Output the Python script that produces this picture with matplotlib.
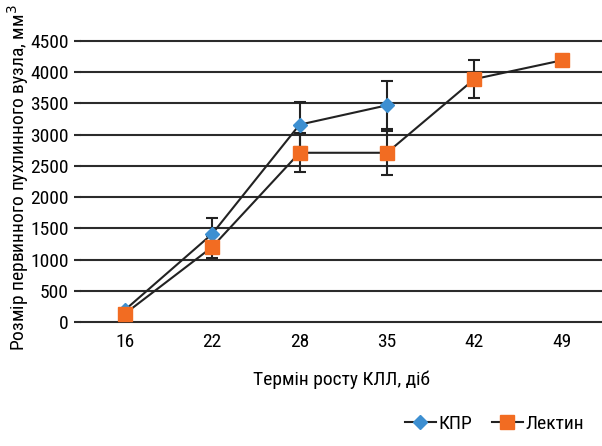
import matplotlib
matplotlib.use("Agg")
import matplotlib.pyplot as plt
from matplotlib import font_manager as fm

names = {f.name for f in fm.fontManager.ttflist}
fam = [n for n in ["Liberation Sans Narrow", "Roboto Condensed", "Roboto", "DejaVu Sans"] if n in names]
plt.rcParams['font.family'] = fam

categories = ["16", "22", "28", "35", "42", "49"]
kpr_x = [0, 1, 2, 3]
kpr_vals = [190, 1410, 3160, 3470]
kpr_err = [0, 257, 356, 385]
lec_x = [0, 1, 2, 3, 4, 5]
lec_vals = [130, 1200, 2710, 2710, 3890, 4190]
lec_err = [0, 170, 310, 350, 300, 0]
yticks = [0, 500, 1000, 1500, 2000, 2500, 3000, 3500, 4000, 4500]

fig = plt.figure(figsize=(6.02, 4.46), dpi=100)
ax = fig.add_axes([81/602, 1-322/446, 1-81/602, (322-41)/446])
ax.set_xlim(-0.5, 5.46)
ax.set_ylim(0, 4500)

for y in yticks:
    ax.axhline(y, color="#2b2b2b", lw=1.5, zorder=1, clip_on=False)

ax.errorbar(kpr_x, kpr_vals, yerr=kpr_err, fmt='none', ecolor="#222222", elinewidth=1.5, capsize=4, capthick=1.5, zorder=2)
ax.errorbar(lec_x, lec_vals, yerr=lec_err, fmt='none', ecolor="#222222", elinewidth=1.5, capsize=4, capthick=1.5, zorder=2)
ax.plot(kpr_x, kpr_vals, color="#222222", lw=1.5, marker='D', markersize=7,
        markerfacecolor="#3d8fd1", markeredgecolor="#3d8fd1", label="КПР", zorder=3)
ax.plot(lec_x, lec_vals, color="#222222", lw=1.5, marker='s', markersize=10,
        markerfacecolor="#f26c22", markeredgecolor="#f26c22", label="Лектин", zorder=4)

for s in ax.spines.values():
    s.set_visible(False)
ax.set_xticks(range(len(categories)))
ax.set_xticklabels(categories, fontsize=14)
ax.set_yticks(yticks)
ax.set_yticklabels([str(v) for v in yticks], fontsize=14)
ax.tick_params(axis='x', length=0, pad=8)
ax.tick_params(axis='y', length=5, width=1.5, color="#2b2b2b", pad=4)

ax.set_xlabel("Термін росту КЛЛ, діб", fontsize=14, labelpad=14)
fig.text(0.03, (446-178)/446, "Розмір первинного пухлинного вузла, мм$^3$", rotation=90,
         ha='center', va='center', fontsize=14)

fig.legend(loc='lower right', bbox_to_anchor=(1.0, -0.01), ncol=2, frameon=False, fontsize=14,
           handlelength=1.6, handletextpad=0.15, columnspacing=1.0)

fig.savefig("out.png", dpi=100)
